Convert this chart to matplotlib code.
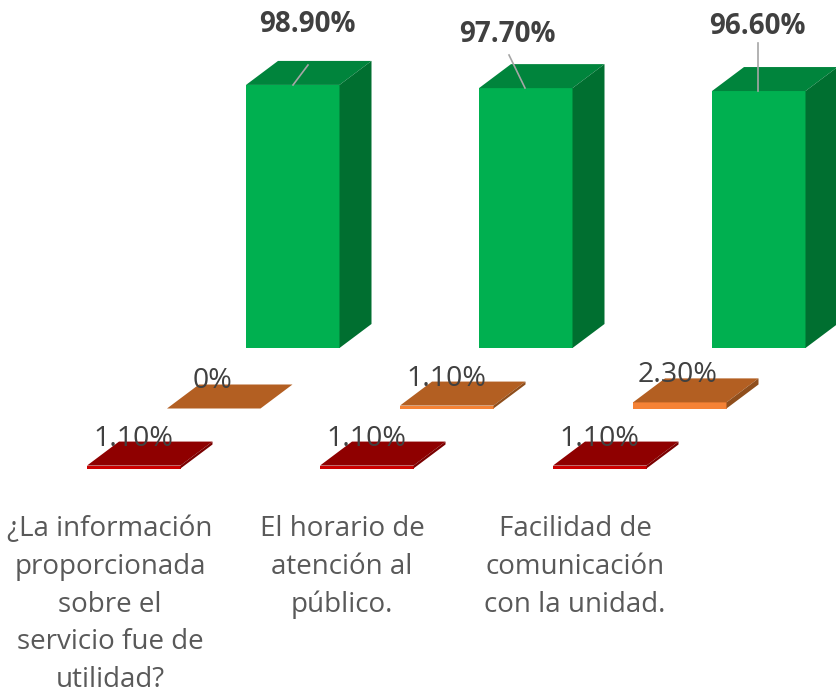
import matplotlib
matplotlib.use('Agg')
import matplotlib.pyplot as plt
from matplotlib.patches import Polygon

plt.rcParams['font.family'] = ['Open Sans', 'DejaVu Sans']

# values in percent
categorias = ["¿La información\nproporcionada\nsobre el\nservicio fue de\nutilidad?",
              "El horario de\natención al\npúblico.",
              "Facilidad de\ncomunicación\ncon la unidad."]
verde = [98.9, 97.7, 96.6]
naranja = [0, 1.1, 2.3]
rojo = [1.1, 1.1, 1.1]
etiquetas_verde = ["98.90%", "97.70%", "96.60%"]
etiquetas_naranja = ["0%", "1.10%", "2.30%"]
etiquetas_rojo = ["1.10%", "1.10%", "1.10%"]

# layout in pixels
esc = 2.66
ancho = 93.5
dx, dy = 32, 24
sep = 233
gris = '#404040'


def barra(ax, x, base, valor, frente, arriba, lado):
    h = valor * esc
    t = base - h
    ax.add_patch(Polygon([(x, base), (x + ancho, base), (x + ancho, t), (x, t)], fc=frente, ec='none'))
    ax.add_patch(Polygon([(x, t), (x + ancho, t), (x + ancho + dx, t - dy), (x + dx, t - dy)], fc=arriba, ec='none'))
    ax.add_patch(Polygon([(x + ancho, base), (x + ancho + dx, base - dy), (x + ancho + dx, t - dy), (x + ancho, t)], fc=lado, ec='none'))


fig = plt.figure(figsize=(8.36, 6.97), dpi=100)
ax = fig.add_axes([0, 0, 1, 1])
ax.set_xlim(0, 836)
ax.set_ylim(697, 0)
ax.axis('off')

# leader lines from the green bars up to their labels
lineas = [(293, 85, 308, 65), (525, 88, 509, 55), (758, 91, 758, 43)]
pos_verde = [(307, 24), (507, 34), (757, 27)]
pos_naranja = [(213, 381), (446, 379), (678, 375)]

for i in range(3):
    barra(ax, 246 + i * sep, 348, verde[i], '#00B050', '#00843C', '#006F30')
    barra(ax, 167 + i * sep, 408.5, naranja[i], '#F58235', '#B35F22', '#8F4E1C')
    barra(ax, 87 + i * sep, 468.5, rojo[i], '#CC0000', '#8F0000', '#7A0000')

    x0, y0, x1, y1 = lineas[i]
    ax.plot([x0, x1], [y0, y1], color='#A6A6A6', lw=1.2, zorder=3)

    ax.text(pos_verde[i][0], pos_verde[i][1], etiquetas_verde[i], ha='center', va='center',
            fontsize=20, fontweight='bold', color=gris, zorder=4)
    ax.text(pos_naranja[i][0], pos_naranja[i][1], etiquetas_naranja[i], ha='center', va='center',
            fontsize=20.5, color=gris, zorder=4)
    ax.text(133 + i * sep, 439, etiquetas_rojo[i], ha='center', va='center',
            fontsize=20.5, color=gris, zorder=4)

# category labels
x_cat = [110, 342, 575]
for x, c in zip(x_cat, categorias):
    ax.text(x, 515, c, ha='center', va='top', fontsize=20, color='#595959', linespacing=1.465)

fig.savefig('out.png', dpi=100)
